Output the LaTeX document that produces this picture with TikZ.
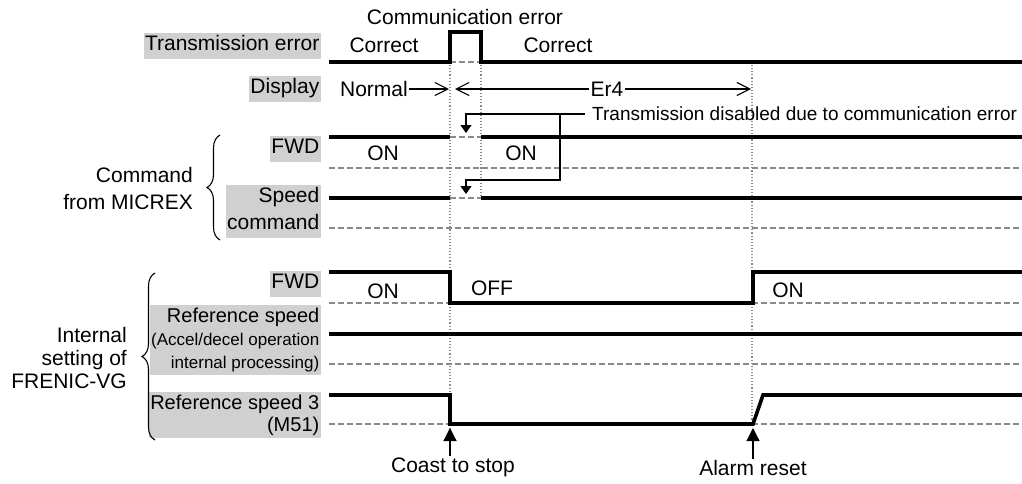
\documentclass[tikz,border=0pt]{standalone}
\usepackage{fontspec}
\setmainfont{Liberation Sans}
\usetikzlibrary{arrows.meta,decorations.pathreplacing}
\definecolor{Ink}{HTML}{000000}
\definecolor{Shade}{HTML}{D0D0D0}
\definecolor{Guide}{HTML}{8A8A8A}
\newcommand{\subline}{\fontsize{17}{19}\selectfont}
\newcommand{\noteline}{\fontsize{19}{22}\selectfont}
\newcommand{\refline}{\fontsize{20}{22}\selectfont}
\tikzset{
  sig/.style={line width=3.6pt, draw=Ink},
  base/.style={line width=1.1pt, draw=Guide, dash pattern=on 6pt off 3pt},
  guide/.style={line width=1.1pt, draw=Guide, dash pattern=on 1.1pt off 2pt},
  lbl/.style={fill=Shade, anchor=east, align=right, inner xsep=1.5pt, inner ysep=1.5pt},
  txt/.style={inner sep=1pt},
  spanflow/.style={-{Straight Barb[length=13pt,width=13pt]}, line width=1.1pt},
  dropflow/.style={-{Triangle[length=8pt,width=11pt]}, line width=1.1pt},
  eventflow/.style={-{Triangle[length=13pt,width=13pt]}, line width=1.2pt},
  grp/.style={decorate, decoration={brace,amplitude=13pt}, line width=1.1pt}
}

\begin{document}
\begin{tikzpicture}[x=1pt,y=-1pt,font=\fontsize{21}{23}\selectfont]
  \useasboundingbox (0,0) rectangle (1022,483);
  % row labels
  \node[lbl] (txerr) at (321,46) {\strut Transmission error};
  \node[lbl] (disp) at (321,89) {\strut Display};
  \node[lbl] (cmdfwd) at (321,149) {\strut FWD};
  \node[lbl] (cmdspd) at (321,211) {\strut Speed\\[4pt]command\strut};
  \node[lbl] (intfwd) at (321,284) {\strut FWD};
  \node[lbl,inner ysep=2.5pt] (refspd) at (321,340) {{\refline Reference speed}\\{\subline (Accel/decel operation}\\{\subline internal processing)}};
  \node[lbl,inner ysep=3pt,font=\refline] (refspd3) at (321,415) {Reference speed 3\\(M51)};
  % groups
  \draw[grp] (220,240) -- (220,135);
  \node[txt,anchor=east,align=right] (micrex) at (194,188) {Command\\[4pt]from MICREX};
  \draw[grp] (155,440) -- (155,273);
  \node[txt,anchor=east,align=right] (frenic) at (128,358) {Internal\\setting of\\FRENIC-VG};

  % guides
  \draw[guide] (450,62) -- (450,428);
  \draw[guide] (481,62) -- (481,198);
  \draw[guide] (752,65) -- (752,424);

  % base lines
  \draw[base] (450,62) -- (481,62);
  \draw[base] (450,137) -- (481,137);
  \draw[base] (450,198) -- (481,198);
  \draw[base] (329,168) -- (1022,168);
  \draw[base] (329,228) -- (1022,228);
  \draw[base] (329,303) -- (1022,303);
  \draw[base] (329,364) -- (1022,364);
  \draw[base] (329,424) -- (1022,424);

  % waveforms
  \draw[sig] (329,62) -- (450,62) -- (450,32) -- (481,32) -- (481,62) -- (1022,62);
  \draw[sig] (329,137) -- (450,137);
  \draw[sig] (481,137) -- (1022,137);
  \draw[sig] (329,198) -- (450,198);
  \draw[sig] (481,198) -- (1022,198);
  \draw[sig] (329,272) -- (450,272) -- (450,303) -- (753,303) -- (753,272) -- (1022,272);
  \draw[sig] (329,334) -- (1022,334);
  \draw[sig] (329,395) -- (450,395) -- (450,424) -- (753,424) -- (763,395) -- (1022,395);

  % state texts
  \node[txt] (commerr) at (465,17) {Communication error};
  \node[txt] (ok1) at (384,45) {Correct};
  \node[txt] (ok2) at (558,45) {Correct};
  \node[txt,anchor=east] (normal) at (409,89) {Normal};
  \node[txt] (er4) at (607,89) {Er4};
  \node[txt] (on1) at (383,153) {ON};
  \node[txt] (on2) at (521,153) {ON};
  \node[txt] (on3) at (383,291) {ON};
  \node[txt] (off1) at (492,288) {OFF};
  \node[txt] (on4) at (788,290) {ON};

  % display span
  \draw[spanflow] (normal.east) -- (449,89);
  \draw[spanflow] (er4.west) -- (455,89);
  \draw[spanflow] (er4.east) -- (751,89);

  % transmission disabled
  \node[txt,anchor=west,inner xsep=7pt,font=\noteline] (txdis) at (585,114) {Transmission disabled due to communication error};
  \coordinate (hitfwd) at (466,133);
  \coordinate (hitspd) at (466,194);
  \draw[dropflow] (txdis.west) -- (466,114) -- (hitfwd);
  \draw[dropflow] (560,114) -- (560,180) -- (466,180) -- (hitspd);

  % events
  \node[txt] (coast) at (453,467) {Coast to stop};
  \node[txt] (reset) at (753,468) {Alarm reset};
  \coordinate (stopat) at (450,428);
  \coordinate (resetat) at (753,428);
  \draw[eventflow] (coast.north -| stopat) -- (stopat);
  \draw[eventflow] (reset.north -| resetat) -- (resetat);
\end{tikzpicture}
\end{document}
